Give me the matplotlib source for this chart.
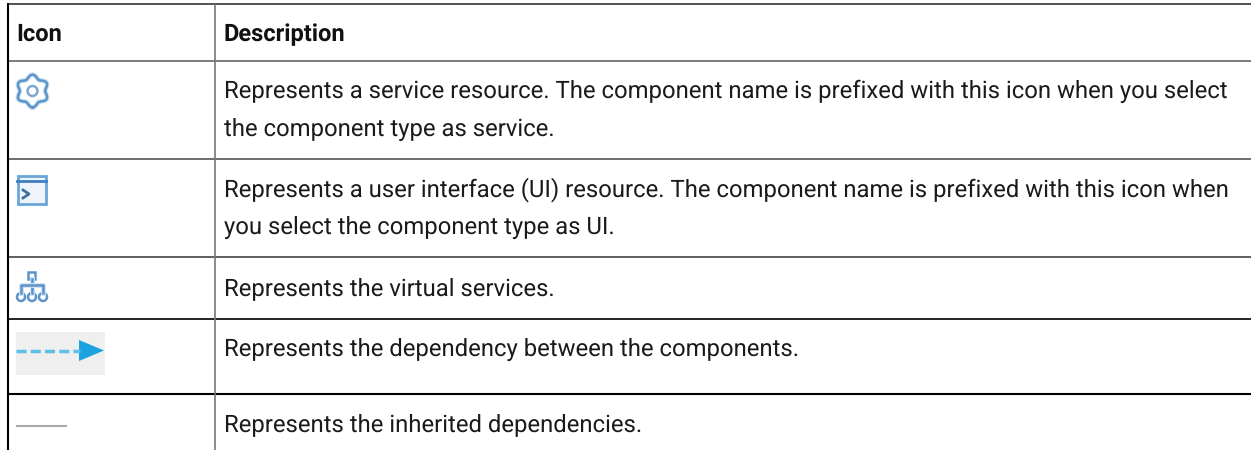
import matplotlib
matplotlib.use('Agg')
import numpy as np
import matplotlib.pyplot as plt
import matplotlib.patheffects as pe
from matplotlib.patches import Circle, Rectangle, Polygon

headers = ['Icon', 'Description']
descriptions = [
    ['Represents a service resource. The component name is prefixed with this icon when you select',
     'the component type as service.'],
    ['Represents a user interface (UI) resource. The component name is prefixed with this icon when',
     'you select the component type as UI.'],
    ['Represents the virtual services.'],
    ['Represents the dependency between the components.'],
    ['Represents the inherited dependencies.'],
]
text_y = [[98, 136], [196, 234], [295], [355.5], [431.5]]
row_lines = [4, 61, 159, 257, 319, 394]
line_colors = ['#333333', '#666666', '#555555', '#444444', '#000000', '#000000']
line_widths = [1.2, 1.2, 1.2, 1.2, 1.2, 1.5]

plt.rcParams['font.family'] = ['Roboto', 'DejaVu Sans']
plt.rcParams['text.hinting'] = 'no_hinting'
fig = plt.figure(figsize=(12.51, 4.5), dpi=100)
ax = fig.add_axes([0, 0, 1, 1])
ax.set_xlim(0, 1251)
ax.set_ylim(450, 0)
ax.axis('off')

# table grid
for y, c, w in zip(row_lines, line_colors, line_widths):
    ax.plot([8, 1251], [y, y], color=c, lw=w, solid_capstyle='butt')
ax.plot([8, 8], [3, 450], color='#000000', lw=1.5, solid_capstyle='butt')
ax.plot([215, 215], [4, 450], color='#777777', lw=1.2, solid_capstyle='butt')

# header + text
ax.text(16.5, 41, headers[0], fontsize=17, fontweight='bold', va='baseline', color='#111111')
ax.text(223.5, 41, headers[1], fontsize=17, fontweight='bold', va='baseline', color='#111111')
for lines, ys in zip(descriptions, text_y):
    for s, y in zip(lines, ys):
        ax.text(223.5, y, s, fontsize=17.2, va='baseline', color='#1a1a1a')

blue = '#5b94c8'
# soft edge, the icons are blurry in the source
halo = [pe.Stroke(linewidth=3.5, foreground='#cfe2f3'), pe.Normal()]

# gear icon
ang = np.linspace(0, 2 * np.pi, 200)
r = 14.5 + 1.8 * np.cos(6 * ang)
ax.plot(32.5 + r * np.sin(ang), 91 + r * np.cos(ang), color=blue, lw=1.8, path_effects=halo)
ax.add_patch(Circle((32.5, 91), 5, fill=False, ec='#7fa8cf', lw=1.8))

# window icon
ax.add_patch(Rectangle((17.5, 175.5), 28, 28, fc='#eef4fa', ec='#6aa5d8', lw=2))
ax.plot([17, 46], [181, 181], color='#3f7fbf', lw=2)
ax.plot([23, 29, 23], [190, 194, 198], color='#3f6f9f', lw=2)

# tree icon
ax.plot([32, 32], [279, 293], color=blue, lw=1.8, path_effects=halo)
ax.plot([21, 21, 43, 43], [293, 285, 285, 293], color=blue, lw=1.8, path_effects=halo)
ax.add_patch(Rectangle((28, 272), 7, 7, fc='white', ec=blue, lw=1.8))
for cx in [21, 32, 43]:
    ax.add_patch(Circle((cx, 297), 4, fc='white', ec=blue, lw=1.8))

# dashed arrow icon
ax.add_patch(Rectangle((16, 332), 89, 43, fc='#efefef', ec='none'))
ax.plot([16, 80], [350.5, 350.5], color='#5cc0ea', lw=2.5, dashes=(2.9, 1.2))
ax.add_patch(Polygon([[79, 340], [104, 350.5], [79, 361]], fc='#1ba3e0', ec='none'))

# plain line icon
ax.plot([16, 67], [426, 426], color='#a8a8a8', lw=1.5, solid_capstyle='butt')

fig.savefig('out.png', dpi=100)
